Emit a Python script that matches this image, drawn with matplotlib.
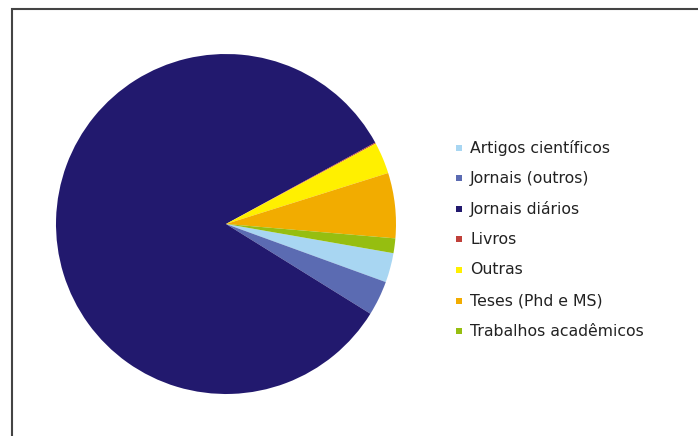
import matplotlib
matplotlib.use('Agg')
import matplotlib.pyplot as plt
from matplotlib.patches import Rectangle

# Share of each source type (percent)
labels = ['Artigos científicos', 'Jornais (outros)', 'Jornais diários', 'Livros',
          'Outras', 'Teses (Phd e MS)', 'Trabalhos acadêmicos']
values = [2.8, 3.3, 83.2, 0.1, 3.0, 6.2, 1.4]
colors = ['#A8D6F2', '#5B6BB2', '#22196E', '#C0403A', '#FFF000', '#F2AC00', '#96BE10']

W, H = 698, 436
fig = plt.figure(figsize=(W / 100, H / 100), dpi=100, facecolor='white')

# Outer frame
fig.patches.append(Rectangle((12 / W, -0.1), 1.2, 1 - 9.5 / H + 0.1,
                             transform=fig.transFigure, fill=False,
                             edgecolor='#444444', lw=1.5))

# Pie
cx, cy, r = 226, 224, 170
ax = fig.add_axes([(cx - r) / W, (H - cy - r) / H, 2 * r / W, 2 * r / H])
ax.pie(values, colors=colors, startangle=-9.9, counterclock=False, radius=1,
       wedgeprops={'linewidth': 0})
ax.set_xlim(-1, 1)
ax.set_ylim(-1, 1)
ax.set_aspect('equal')
ax.axis('off')

# Legend
y0, dy = 148, 30.5
for i, (lab, col) in enumerate(zip(labels, colors)):
    y = y0 + i * dy
    fig.patches.append(Rectangle((456 / W, 1 - (y + 3) / H), 6 / W, 6 / H,
                                 transform=fig.transFigure, facecolor=col,
                                 edgecolor='none'))
    fig.text(470 / W, 1 - y / H, lab, fontsize=11.3, family='DejaVu Sans',
             color='#222222', va='center', ha='left')

fig.savefig('out.png', dpi=100, facecolor='white')
